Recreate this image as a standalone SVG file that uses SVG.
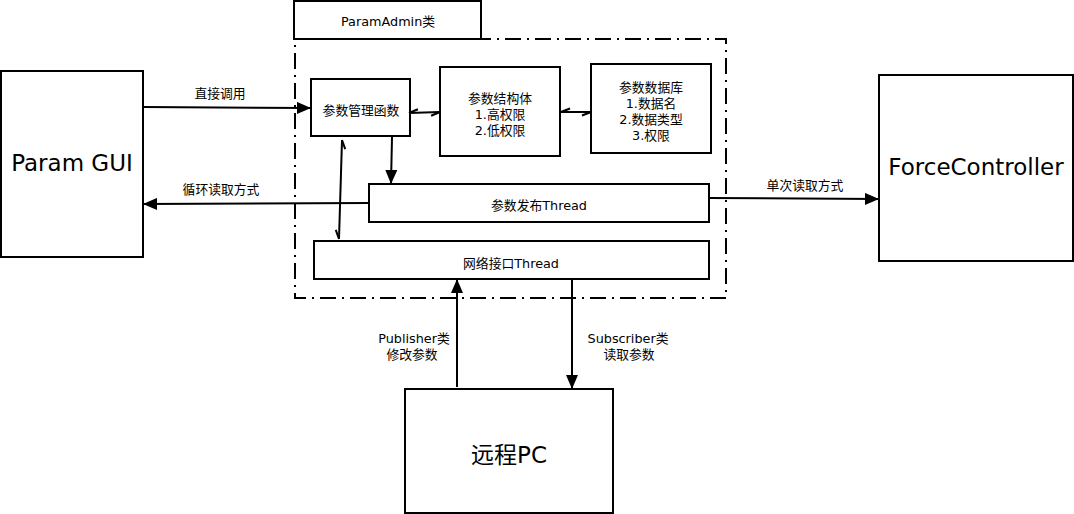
<svg xmlns="http://www.w3.org/2000/svg" width="1074" height="514" viewBox="0 0 1074 514">
<defs>
<style>
.box{fill:#fff;stroke:#000;stroke-width:2}
.ln{fill:none;stroke:#000;stroke-width:2}
.t{font-family:"DejaVu Sans","Noto Sans CJK SC",sans-serif;fill:#000;text-anchor:middle}
.s{font-size:12.8px}
.b{font-size:23px}
</style>
<marker id="arr" viewBox="0 0 14 12" refX="14" refY="6" markerWidth="14" markerHeight="12" markerUnits="userSpaceOnUse" orient="auto">
<path d="M0,0 L14,6 L0,12 Z" fill="#000"/>
</marker>
<marker id="half" viewBox="-12 -6 14 12" refX="0" refY="0" markerWidth="14" markerHeight="12" markerUnits="userSpaceOnUse" orient="auto-start-reverse">
<path d="M0,0 L-9,3.5" fill="none" stroke="#000" stroke-width="2"/>
</marker>
</defs>
<rect width="1074" height="514" fill="#fff"/>
<g id="paramadmin-label">
<rect class="box" x="294" y="1" width="187" height="38"/>
<text class="t s" x="388" y="26">ParamAdmin类</text>
</g>
<g id="paramadmin-frame">
<rect x="295" y="39" width="431" height="259" fill="none" stroke="#000" stroke-width="2" stroke-dasharray="16 6 2 6"/>
</g>
<g id="param-gui">
<rect class="box" x="1" y="71" width="142" height="186"/>
<text class="t b" x="72" y="171">Param GUI</text>
</g>
<g id="force-controller">
<rect class="box" x="879" y="75" width="194" height="186"/>
<text class="t b" x="976" y="175">ForceController</text>
</g>
<g id="remote-pc">
<rect class="box" x="405" y="389" width="208" height="124"/>
<text class="t b" x="509" y="463">远程PC</text>
</g>
<g id="mgr-func">
<rect class="box" x="311" y="79" width="99" height="57"/>
<text class="t s" x="361" y="115">参数管理函数</text>
</g>
<g id="param-struct">
<rect class="box" x="440" y="67" width="120" height="89"/>
<text class="t s" x="500" y="103">参数结构体</text>
<text class="t s" x="500" y="119">1.高权限</text>
<text class="t s" x="500" y="135">2.低权限</text>
</g>
<g id="param-db">
<rect class="box" x="591" y="64" width="120" height="89"/>
<text class="t s" x="651" y="92">参数数据库</text>
<text class="t s" x="651" y="108">1.数据名</text>
<text class="t s" x="651" y="124">2.数据类型</text>
<text class="t s" x="651" y="140">3.权限</text>
</g>
<g id="publish-thread">
<rect class="box" x="369" y="184" width="340" height="38"/>
<text class="t s" x="539" y="210">参数发布Thread</text>
</g>
<g id="net-thread">
<rect class="box" x="314" y="241" width="395" height="38"/>
<text class="t s" x="511" y="268">网络接口Thread</text>
</g>
<g id="connectors">
<line class="ln" x1="143" y1="107" x2="311" y2="108" marker-end="url(#arr)"/>
<text class="t s" x="220" y="98">直接调用</text>
<line class="ln" x1="369" y1="203" x2="143" y2="204" marker-end="url(#arr)"/>
<text class="t s" x="221" y="194">循环读取方式</text>
<line class="ln" x1="709" y1="198" x2="879" y2="199" marker-end="url(#arr)"/>
<text class="t s" x="805" y="190">单次读取方式</text>
<line class="ln" x1="392" y1="137" x2="391" y2="184" marker-end="url(#arr)"/>
<line class="ln" x1="457" y1="387" x2="457" y2="279" marker-end="url(#arr)"/>
<text class="t s" x="414" y="343">Publisher类</text>
<text class="t s" x="412" y="359">修改参数</text>
<line class="ln" x1="572" y1="280" x2="572" y2="389" marker-end="url(#arr)"/>
<text class="t s" x="628" y="343">Subscriber类</text>
<text class="t s" x="629" y="359">读取参数</text>
<line class="ln" x1="409" y1="113" x2="440" y2="112" marker-start="url(#half)" marker-end="url(#half)"/>
<line class="ln" x1="561" y1="112" x2="591" y2="112" marker-start="url(#half)" marker-end="url(#half)"/>
<line class="ln" x1="342" y1="140" x2="339" y2="239" marker-start="url(#half)" marker-end="url(#half)"/>
</g>
</svg>
